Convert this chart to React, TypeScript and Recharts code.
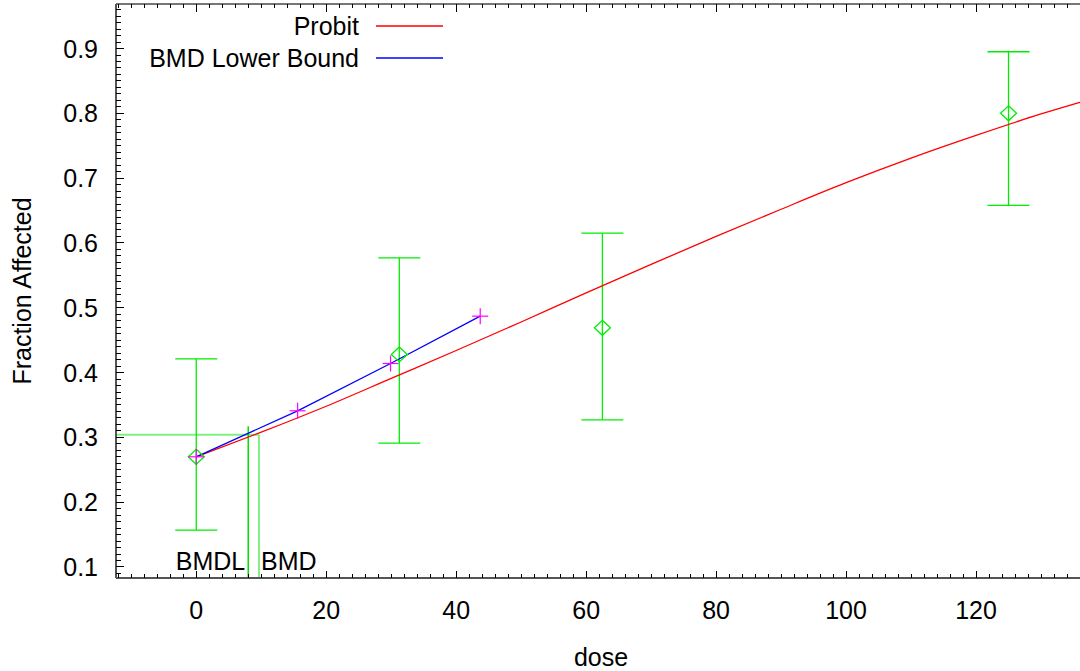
import React from 'react';
import {
  ComposedChart,
  Line,
  Scatter,
  ErrorBar,
  XAxis,
  YAxis,
  Legend,
  ReferenceLine,
} from 'recharts';

const FONT = '"Liberation Sans", Arial, sans-serif';

// fitted probit curve
const probitDose = [0, 10, 20, 30, 40, 50, 60, 70, 80, 90, 100, 110, 120, 130, 136];
const probitFrac = [0.27, 0.308, 0.348, 0.391, 0.434, 0.478, 0.523, 0.567, 0.61, 0.652, 0.693, 0.731, 0.766, 0.799, 0.817];

// BMD lower bound curve
const lowerDose = [0, 15.6, 29.9, 43.7];
const lowerFrac = [0.27, 0.341, 0.414, 0.487];

// observed data with confidence limits
const obsDose = [0, 31.25, 62.5, 125];
const obsFrac = [0.27, 0.428, 0.469, 0.8];
const obsLow = [0.157, 0.291, 0.327, 0.658];
const obsHigh = [0.421, 0.577, 0.615, 0.895];

const BMR = 0.304;
const BMD = 9.65;
const BMDL = 8.0;
const BMDL_TOP = 0.317;

const legendOrder = ['Probit', 'BMD Lower Bound'];

const X_DOMAIN: [number, number] = [-12.35, 136];
const Y_DOMAIN: [number, number] = [0.083, 0.9687];

const xTicks: number[] = [];
for (let v = -12; v <= 134; v += 2) xTicks.push(v);
const yTicks: number[] = [];
for (let i = 9; i <= 96; i++) yTicks.push(i / 100);

const probitData = probitDose.map((d, i) => ({ dose: d, frac: probitFrac[i] }));
const lowerData = lowerDose.map((d, i) => ({ dose: d, frac: lowerFrac[i] }));
const obsData = obsDose.map((d, i) => ({
  dose: d,
  frac: obsFrac[i],
  err: [obsFrac[i] - obsLow[i], obsHigh[i] - obsFrac[i]],
}));

function BottomTick({ x, y, payload }: any) {
  const v = payload.value;
  const major = Math.abs(v % 20) < 1e-6;
  return (
    <g>
      <line x1={x} x2={x} y1={y} y2={y - (major ? 7 : 4)} stroke="#000" shapeRendering="crispEdges" />
      {major && (
        <text x={x} y={y + 41} textAnchor="middle" fontSize={25} fontFamily={FONT} fill="#000">
          {v}
        </text>
      )}
    </g>
  );
}

function TopTick({ x, y, payload }: any) {
  const v = payload.value;
  const major = Math.abs(v % 20) < 1e-6;
  return <line x1={x} x2={x} y1={y} y2={y + (major ? 8 : 4)} stroke="#000" shapeRendering="crispEdges" />;
}

function LeftTick({ x, y, payload }: any) {
  const v = payload.value;
  const major = Math.round(v * 100) % 10 === 0;
  return (
    <g>
      <line x1={x} x2={x + (major ? 8 : 5)} y1={y} y2={y} stroke="#000" shapeRendering="crispEdges" />
      {major && (
        <text x={x - 18} y={y + 9} textAnchor="end" fontSize={25} fontFamily={FONT} fill="#000">
          {v.toFixed(1)}
        </text>
      )}
    </g>
  );
}

function Diamond({ cx, cy }: any) {
  return (
    <polygon
      points={`${cx},${cy - 7.5} ${cx + 8},${cy} ${cx},${cy + 7.5} ${cx - 8},${cy}`}
      fill="none"
      stroke="#00ee00"
      strokeWidth={1.3}
    />
  );
}

function Cross({ cx, cy, index }: any) {
  return (
    <g key={`cross-${index}`}>
      <line x1={cx - 8} x2={cx + 8} y1={cy} y2={cy} stroke="#ff00ff" strokeWidth={1.2} />
      <line x1={cx} x2={cx} y1={cy - 8} y2={cy + 8} stroke="#ff00ff" strokeWidth={1.2} />
    </g>
  );
}

function LegendBox({ payload }: any) {
  const items = legendOrder
    .map((name) => (payload || []).find((p: any) => p.value === name))
    .filter(Boolean);
  return (
    <div style={{ fontFamily: FONT, fontSize: 25, color: '#000' }}>
      {items.map((p: any) => (
        <div key={p.value} style={{ display: 'flex', alignItems: 'center', height: 32 }}>
          <span style={{ width: 239, textAlign: 'right', whiteSpace: 'nowrap' }}>{p.value}</span>
          <svg width={84} height={4} style={{ marginLeft: 17 }}>
            <line x1={0} x2={67} y1={2} y2={2} stroke={p.color} strokeWidth={1.3} />
          </svg>
        </div>
      ))}
    </div>
  );
}

function YTitle({ viewBox }: any) {
  const cx = viewBox.x + 22;
  const cy = viewBox.y + viewBox.height / 2;
  return (
    <text
      x={cx}
      y={cy}
      transform={`rotate(-90, ${cx}, ${cy})`}
      textAnchor="middle"
      dominantBaseline="central"
      fontSize={25}
      fontFamily={FONT}
      fill="#000"
    >
      Fraction Affected
    </text>
  );
}

function XTitle({ viewBox }: any) {
  const cx = viewBox.x + viewBox.width / 2 + 3;
  return (
    <text x={cx} y={viewBox.y + 88} textAnchor="middle" fontSize={25} fontFamily={FONT} fill="#000">
      dose
    </text>
  );
}

function BmdlLabel({ viewBox }: any) {
  return (
    <text x={viewBox.x - 3} y={viewBox.y + viewBox.height - 8} textAnchor="end" fontSize={25} fontFamily={FONT} fill="#000">
      BMDL
    </text>
  );
}

function BmdLabel({ viewBox }: any) {
  return (
    <text x={viewBox.x + 2} y={viewBox.y + viewBox.height - 8} textAnchor="start" fontSize={25} fontFamily={FONT} fill="#000">
      BMD
    </text>
  );
}

export default function App() {
  return (
    <div style={{ position: 'absolute', left: 0, top: 0, background: '#fff' }}>
      <ComposedChart width={1080} height={671} margin={{ top: 0, right: 0, bottom: 0, left: 0 }}>
        <XAxis
          xAxisId="top"
          orientation="top"
          type="number"
          dataKey="dose"
          domain={X_DOMAIN}
          allowDataOverflow
          ticks={xTicks}
          interval={0}
          height={4}
          tickSize={0}
          tickMargin={0}
          tickLine={false}
          tick={<TopTick />}
          axisLine={{ stroke: '#777', strokeWidth: 2 }}
        />
        <XAxis
          type="number"
          dataKey="dose"
          domain={X_DOMAIN}
          allowDataOverflow
          ticks={xTicks}
          interval={0}
          height={93}
          tickSize={0}
          tickMargin={0}
          tickLine={false}
          tick={<BottomTick />}
          axisLine={{ stroke: '#555', strokeWidth: 2 }}
          label={<XTitle />}
        />
        <YAxis
          type="number"
          dataKey="frac"
          domain={Y_DOMAIN}
          allowDataOverflow
          ticks={yTicks}
          interval={0}
          width={116}
          tickSize={0}
          tickMargin={0}
          tickLine={false}
          tick={<LeftTick />}
          axisLine={{ stroke: '#555', strokeWidth: 2 }}
          label={<YTitle />}
        />
        <Legend
          layout="horizontal"
          verticalAlign="middle"
          wrapperStyle={{ left: 120, top: 10, width: 360 }}
          content={<LegendBox />}
        />

        <ReferenceLine
          segment={[{ x: X_DOMAIN[0], y: BMR }, { x: BMD, y: BMR }]}
          stroke="#80f080"
          strokeWidth={2}
          ifOverflow="visible"
        />
        <ReferenceLine
          segment={[{ x: BMD, y: Y_DOMAIN[0] }, { x: BMD, y: BMR }]}
          stroke="#80f080"
          strokeWidth={2}
          ifOverflow="visible"
          label={<BmdLabel />}
        />
        <ReferenceLine
          segment={[{ x: BMDL, y: Y_DOMAIN[0] }, { x: BMDL, y: BMDL_TOP }]}
          stroke="#00e000"
          strokeWidth={1.5}
          ifOverflow="visible"
          label={<BmdlLabel />}
        />

        <Scatter
          name="Observed"
          data={obsData}
          dataKey="frac"
          shape={<Diamond />}
          legendType="none"
          isAnimationActive={false}
        >
          <ErrorBar dataKey="err" direction="y" width={21} stroke="#00ee00" strokeWidth={1.3} isAnimationActive={false} />
        </Scatter>
        <Line
          name="Probit"
          data={probitData}
          dataKey="frac"
          type="monotone"
          stroke="#ff0000"
          strokeWidth={1.3}
          dot={false}
          activeDot={false}
          isAnimationActive={false}
        />
        <Line
          name="BMD Lower Bound"
          data={lowerData}
          dataKey="frac"
          type="linear"
          stroke="#0000ff"
          strokeWidth={1.3}
          dot={(p: any) => <Cross key={`c${p.index}`} {...p} />}
          activeDot={false}
          isAnimationActive={false}
        />
      </ComposedChart>
    </div>
  );
}
